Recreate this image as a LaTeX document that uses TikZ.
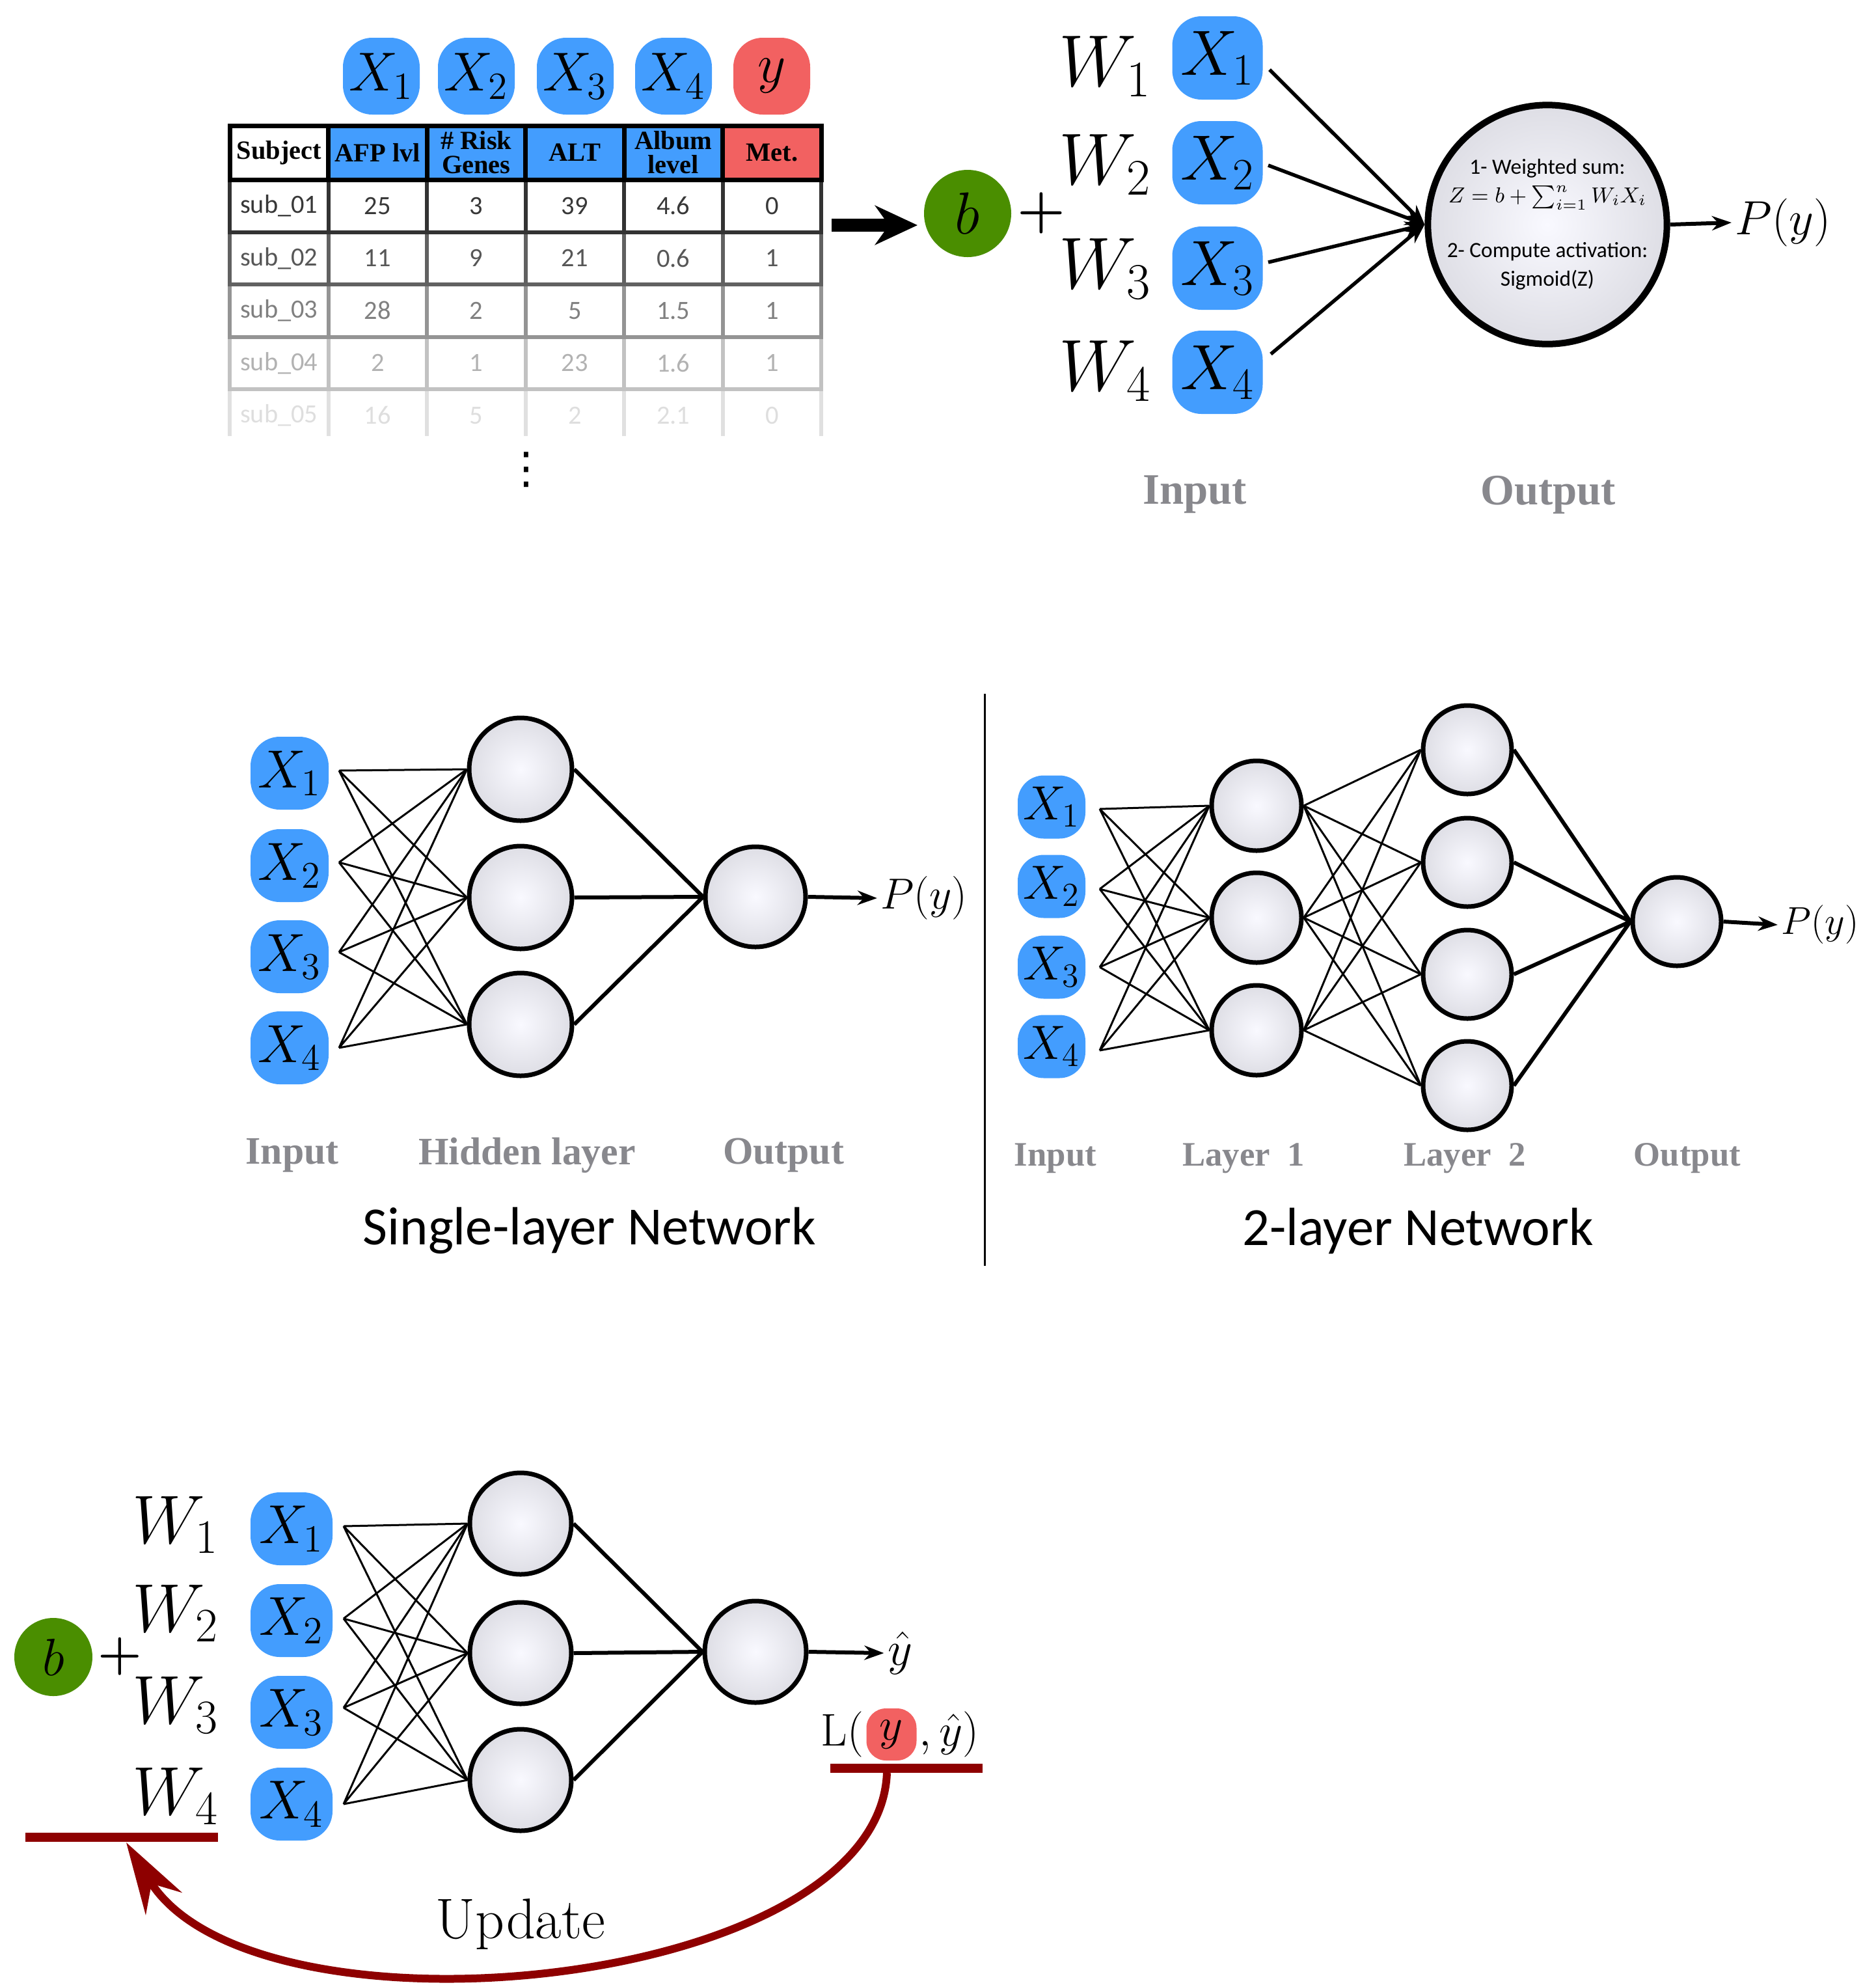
\RequirePackage{fix-cm}
\documentclass[tikz,border=0pt]{standalone}
\usepackage{fontspec}
\usetikzlibrary{positioning,arrows.meta}
\newfontfamily\carlito{Carlito}
\newfontfamily\libserif{Liberation Serif}
\newfontfamily\dejavu{DejaVu Sans}
\definecolor{xblue}{HTML}{439DFE}
\definecolor{xred}{HTML}{F26161}
\definecolor{xgreen}{HTML}{4A8E00}
\definecolor{updred}{HTML}{8E0000}
\definecolor{labgray}{HTML}{88888D}
\definecolor{ncenter}{HTML}{F9F9FF}
\definecolor{nedge}{HTML}{C3C3CB}
\pgfdeclareradialshading{neuronshade}{\pgfpoint{0bp}{0bp}}{color(0bp)=(ncenter); color(50bp)=(nedge)}
\tikzset{
  pill/.style={rectangle, rounded corners=4.5mm, fill=xblue, inner sep=0pt},
  bias/.style={circle, fill=xgreen, inner sep=0pt},
  neuron/.style={circle, draw, line width=0.7mm, shading=neuronshade, inner sep=0pt},
  thinlink/.style={line width=0.3mm},
  thicklink/.style={line width=0.6mm},
  inarrow/.style={line width=0.55mm, -{Stealth[length=3mm, width=2.4mm]}},
  outarrow/.style={line width=0.6mm, -{Stealth[length=3mm, width=2.2mm]}},
  layerlabel/.style={text=labgray, font=\libserif\bfseries\fontsize{17}{20}\selectfont},
  nettitle/.style={font=\carlito\fontsize{23.5}{28}\selectfont},
  hcell/.style={rectangle, draw, line width=0.7mm, minimum width=1.515cm, minimum height=0.83cm, inner sep=0pt, align=center, font=\libserif\bfseries\fontsize{11.5}{10.5}\selectfont},
  bcell/.style={rectangle, line width=0.6mm, minimum width=1.515cm, minimum height=0.805cm, inner sep=0pt, font=\carlito\fontsize{11.5}{13}\selectfont},
  rowA/.style={bcell, draw=black!80, text=black!78},
  rowB/.style={bcell, draw=black!62, text=black!66},
  rowC/.style={bcell, draw=black!42, text=black!50},
  rowD/.style={bcell, draw=black!24, text=black!30},
  rowE/.style={bcell, text=black!13}
}
\begin{document}
\begin{tikzpicture}[y=-1cm]
    \useasboundingbox (0, 0) rectangle (28.83, 30.50);
    \node[pill, minimum width=1.18cm, minimum height=1.18cm, font=\fontsize{24}{28}\selectfont] (Hx_1) at (5.86, 1.17) {$X_1$};
    \node[pill, minimum width=1.18cm, minimum height=1.18cm, font=\fontsize{24}{28}\selectfont] (Hx_2) at (7.32, 1.17) {$X_2$};
    \node[pill, minimum width=1.18cm, minimum height=1.18cm, font=\fontsize{24}{28}\selectfont] (Hx_3) at (8.84, 1.17) {$X_3$};
    \node[pill, minimum width=1.18cm, minimum height=1.18cm, font=\fontsize{24}{28}\selectfont] (Hx_4) at (10.35, 1.17) {$X_4$};
    \node[pill, fill=xred, minimum width=1.18cm, minimum height=1.18cm, font=\fontsize{24}{28}\selectfont] (Hy) at (11.86, 1.17) {$y$};
    \node[rowE] (R5_1) at (4.288, 6.3825) {sub\_05};
    \node[rowE] (R5_2) at (5.803, 6.3825) {16};
    \node[rowE] (R5_3) at (7.318, 6.3825) {5};
    \node[rowE] (R5_4) at (8.833, 6.3825) {2};
    \node[rowE] (R5_5) at (10.348, 6.3825) {2.1};
    \node[rowE] (R5_6) at (11.863, 6.3825) {0};
    \coordinate (E_1) at (3.53, 5.98);
    \coordinate (E_2) at (5.045, 5.98);
    \coordinate (E_3) at (6.56, 5.98);
    \coordinate (E_4) at (8.075, 5.98);
    \coordinate (E_5) at (9.59, 5.98);
    \coordinate (E_6) at (11.105, 5.98);
    \coordinate (E_7) at (12.62, 5.98);
    \draw[black!12, line width=0.6mm] (E_1) -- ++(0, 0.72) (E_2) -- ++(0, 0.72) (E_3) -- ++(0, 0.72) (E_4) -- ++(0, 0.72) (E_5) -- ++(0, 0.72) (E_6) -- ++(0, 0.72) (E_7) -- ++(0, 0.72);
    \node[rowD] (R4_1) at (4.288, 5.5775) {sub\_04};
    \node[rowD] (R4_2) at (5.803, 5.5775) {2};
    \node[rowD] (R4_3) at (7.318, 5.5775) {1};
    \node[rowD] (R4_4) at (8.833, 5.5775) {23};
    \node[rowD] (R4_5) at (10.348, 5.5775) {1.6};
    \node[rowD] (R4_6) at (11.863, 5.5775) {1};
    \node[rowC] (R3_1) at (4.288, 4.7725) {sub\_03};
    \node[rowC] (R3_2) at (5.803, 4.7725) {28};
    \node[rowC] (R3_3) at (7.318, 4.7725) {2};
    \node[rowC] (R3_4) at (8.833, 4.7725) {5};
    \node[rowC] (R3_5) at (10.348, 4.7725) {1.5};
    \node[rowC] (R3_6) at (11.863, 4.7725) {1};
    \node[rowB] (R2_1) at (4.288, 3.9675) {sub\_02};
    \node[rowB] (R2_2) at (5.803, 3.9675) {11};
    \node[rowB] (R2_3) at (7.318, 3.9675) {9};
    \node[rowB] (R2_4) at (8.833, 3.9675) {21};
    \node[rowB] (R2_5) at (10.348, 3.9675) {0.6};
    \node[rowB] (R2_6) at (11.863, 3.9675) {1};
    \node[rowA] (R1_1) at (4.288, 3.1625) {sub\_01};
    \node[rowA] (R1_2) at (5.803, 3.1625) {25};
    \node[rowA] (R1_3) at (7.318, 3.1625) {3};
    \node[rowA] (R1_4) at (8.833, 3.1625) {39};
    \node[rowA] (R1_5) at (10.348, 3.1625) {4.6};
    \node[rowA] (R1_6) at (11.863, 3.1625) {0};
    \node[hcell] (T_1) at (4.288, 2.345) {Subject};
    \node[hcell, fill=xblue] (T_2) at (5.803, 2.345) {AFP lvl};
    \node[hcell, fill=xblue] (T_3) at (7.318, 2.345) {\# Risk\\Genes};
    \node[hcell, fill=xblue] (T_4) at (8.833, 2.345) {ALT};
    \node[hcell, fill=xblue] (T_5) at (10.348, 2.345) {Album\\level};
    \node[hcell, fill=xred] (T_6) at (11.863, 2.345) {Met.};
    \node[font=\dejavu\fontsize{19}{22}\selectfont] (dots) at (8.09, 7.22) {⋮};
    \coordinate (G_1) at (12.78, 3.46);
    \coordinate (G_2) at (14.10, 3.46);
    \draw[line width=2mm, -{Stealth[length=6.5mm, width=6mm]}] (G_1) -- (G_2);
    \node[bias, minimum size=1.34cm, font=\fontsize{26}{30}\selectfont] (bias) at (14.87, 3.28) {$b$};
    \node[font=\fontsize{24}{28}\selectfont] (sum) at (16.00, 3.27) {\textbf{+}};
    \node[font=\fontsize{32}{36}\selectfont] (W_1) at (16.98, 1.02) {$W_1$};
    \node[font=\fontsize{32}{36}\selectfont] (W_2) at (16.98, 2.53) {$W_2$};
    \node[font=\fontsize{32}{36}\selectfont] (W_3) at (16.98, 4.13) {$W_3$};
    \node[font=\fontsize{32}{36}\selectfont] (W_4) at (16.98, 5.70) {$W_4$};
    \node[pill, minimum width=1.39cm, minimum height=1.28cm, font=\fontsize{28}{32}\selectfont] (X_1) at (18.71, 0.89) {$X_1$};
    \node[pill, minimum width=1.39cm, minimum height=1.28cm, font=\fontsize{28}{32}\selectfont] (X_2) at (18.71, 2.50) {$X_2$};
    \node[pill, minimum width=1.39cm, minimum height=1.28cm, font=\fontsize{28}{32}\selectfont] (X_3) at (18.71, 4.12) {$X_3$};
    \node[pill, minimum width=1.39cm, minimum height=1.28cm, font=\fontsize{28}{32}\selectfont] (X_4) at (18.71, 5.72) {$X_4$};
    \coordinate (x_1) at (19.51, 1.07);
    \coordinate (x_2) at (19.49, 2.54);
    \coordinate (x_3) at (19.49, 4.03);
    \coordinate (x_4) at (19.53, 5.44);
    \node[neuron, line width=1mm, minimum size=3.6cm, align=center, font=\carlito\fontsize{9.5}{12.5}\selectfont] (N) at (23.78, 3.45) {1- Weighted sum:\\$Z = b + \sum_{i=1}^{n} W_i X_i$\\[4mm]2- Compute activation:\\Sigmoid(Z)};
    \draw[inarrow] (x_1) -- (N.west);
    \draw[inarrow] (x_2) -- (N.west);
    \draw[inarrow] (x_3) -- (N.west);
    \draw[inarrow] (x_4) -- (N.west);
    \node[inner sep=0.5mm, font=\fontsize{21}{25}\selectfont] (Py) at (27.40, 3.42) {$P(y)$};
    \draw[outarrow] (N.east) -- (Py.west);
    \node[layerlabel, font=\libserif\bfseries\fontsize{19}{22}\selectfont] (In_t) at (18.36, 7.60) {Input};
    \node[layerlabel, font=\libserif\bfseries\fontsize{19}{22}\selectfont] (Out_t) at (23.79, 7.60) {Output};
    \node[pill, minimum width=1.20cm, minimum height=1.12cm, font=\fontsize{23.5}{28}\selectfont] (S_1) at (4.45, 11.88) {$X_1$};
    \node[pill, minimum width=1.20cm, minimum height=1.12cm, font=\fontsize{23.5}{28}\selectfont] (S_2) at (4.45, 13.30) {$X_2$};
    \node[pill, minimum width=1.20cm, minimum height=1.12cm, font=\fontsize{23.5}{28}\selectfont] (S_3) at (4.45, 14.70) {$X_3$};
    \node[pill, minimum width=1.20cm, minimum height=1.12cm, font=\fontsize{23.5}{28}\selectfont] (S_4) at (4.45, 16.10) {$X_4$};
    \coordinate (s_1) at (5.21, 11.84);
    \coordinate (s_2) at (5.21, 13.25);
    \coordinate (s_3) at (5.21, 14.63);
    \coordinate (s_4) at (5.21, 16.10);
    \node[neuron, minimum size=1.58cm] (H_1) at (8.00, 11.82) {};
    \node[neuron, minimum size=1.58cm] (H_2) at (8.00, 13.79) {};
    \node[neuron, minimum size=1.58cm] (H_3) at (8.00, 15.74) {};
    \node[neuron, minimum size=1.54cm] (O) at (11.61, 13.78) {};
    \draw[thinlink] (s_1) -- (H_1.west) (s_1) -- (H_2.west) (s_1) -- (H_3.west);
    \draw[thinlink] (s_2) -- (H_1.west) (s_2) -- (H_2.west) (s_2) -- (H_3.west);
    \draw[thinlink] (s_3) -- (H_1.west) (s_3) -- (H_2.west) (s_3) -- (H_3.west);
    \draw[thinlink] (s_4) -- (H_1.west) (s_4) -- (H_2.west) (s_4) -- (H_3.west);
    \draw[thicklink] (H_1.east) -- (O.west) (H_2.east) -- (O.west) (H_3.east) -- (O.west);
    \node[inner sep=0.5mm, font=\fontsize{19}{23}\selectfont] (Ps) at (14.20, 13.80) {$P(y)$};
    \draw[outarrow] (O.east) -- (Ps.west);
    \node[layerlabel] (In_s) at (4.49, 17.75) {Input};
    \node[layerlabel] (Hid_s) at (8.10, 17.75) {Hidden layer};
    \node[layerlabel] (Out_s) at (12.04, 17.75) {Output};
    \node[nettitle] (Title_s) at (9.06, 18.91) {Single-layer Network};
    \coordinate (V_1) at (15.13, 10.66);
    \coordinate (V_2) at (15.13, 19.45);
    \draw[line width=0.3mm] (V_1) -- (V_2);
    \node[pill, rounded corners=4mm, minimum width=1.04cm, minimum height=0.97cm, font=\fontsize{21}{25}\selectfont] (D_1) at (16.16, 12.40) {$X_1$};
    \node[pill, rounded corners=4mm, minimum width=1.04cm, minimum height=0.97cm, font=\fontsize{21}{25}\selectfont] (D_2) at (16.16, 13.62) {$X_2$};
    \node[pill, rounded corners=4mm, minimum width=1.04cm, minimum height=0.97cm, font=\fontsize{21}{25}\selectfont] (D_3) at (16.16, 14.86) {$X_3$};
    \node[pill, rounded corners=4mm, minimum width=1.04cm, minimum height=0.97cm, font=\fontsize{21}{25}\selectfont] (D_4) at (16.16, 16.08) {$X_4$};
    \coordinate (d_1) at (16.90, 12.43);
    \coordinate (d_2) at (16.90, 13.66);
    \coordinate (d_3) at (16.90, 14.86);
    \coordinate (d_4) at (16.90, 16.14);
    \node[neuron, minimum size=1.38cm] (L_1) at (19.31, 12.38) {};
    \node[neuron, minimum size=1.38cm] (L_2) at (19.31, 14.10) {};
    \node[neuron, minimum size=1.38cm] (L_3) at (19.31, 15.83) {};
    \node[neuron, minimum size=1.36cm] (M_1) at (22.55, 11.52) {};
    \node[neuron, minimum size=1.36cm] (M_2) at (22.55, 13.25) {};
    \node[neuron, minimum size=1.36cm] (M_3) at (22.55, 14.97) {};
    \node[neuron, minimum size=1.36cm] (M_4) at (22.55, 16.68) {};
    \node[neuron, minimum size=1.36cm] (Q) at (25.77, 14.16) {};
    \draw[thinlink] (d_1) -- (L_1.west) (d_1) -- (L_2.west) (d_1) -- (L_3.west);
    \draw[thinlink] (d_2) -- (L_1.west) (d_2) -- (L_2.west) (d_2) -- (L_3.west);
    \draw[thinlink] (d_3) -- (L_1.west) (d_3) -- (L_2.west) (d_3) -- (L_3.west);
    \draw[thinlink] (d_4) -- (L_1.west) (d_4) -- (L_2.west) (d_4) -- (L_3.west);
    \draw[thinlink] (L_1.east) -- (M_1.west) (L_1.east) -- (M_2.west) (L_1.east) -- (M_3.west) (L_1.east) -- (M_4.west);
    \draw[thinlink] (L_2.east) -- (M_1.west) (L_2.east) -- (M_2.west) (L_2.east) -- (M_3.west) (L_2.east) -- (M_4.west);
    \draw[thinlink] (L_3.east) -- (M_1.west) (L_3.east) -- (M_2.west) (L_3.east) -- (M_3.west) (L_3.east) -- (M_4.west);
    \draw[thicklink] (M_1.east) -- (Q.west) (M_2.east) -- (Q.west) (M_3.east) -- (Q.west) (M_4.east) -- (Q.west);
    \node[inner sep=0.5mm, font=\fontsize{17}{21}\selectfont] (Pd) at (27.97, 14.21) {$P(y)$};
    \draw[outarrow] (Q.east) -- (Pd.west);
    \node[layerlabel, font=\libserif\bfseries\fontsize{15}{18}\selectfont] (In_d) at (16.22, 17.80) {Input};
    \node[layerlabel, font=\libserif\bfseries\fontsize{15}{18}\selectfont] (La_d) at (19.11, 17.80) {Layer~ 1};
    \node[layerlabel, font=\libserif\bfseries\fontsize{15}{18}\selectfont] (Lb_d) at (22.51, 17.80) {Layer~ 2};
    \node[layerlabel, font=\libserif\bfseries\fontsize{15}{18}\selectfont] (Out_d) at (25.93, 17.80) {Output};
    \node[nettitle] (Title_d) at (21.79, 18.91) {2-layer Network};
    \node[bias, minimum size=1.20cm, font=\fontsize{23}{27}\selectfont] (bbias) at (0.82, 25.46) {$b$};
    \node[font=\fontsize{22}{26}\selectfont] (bsum) at (1.84, 25.45) {\textbf{+}};
    \node[font=\fontsize{30}{34}\selectfont] (BW_1) at (2.70, 23.43) {$W_1$};
    \node[font=\fontsize{30}{34}\selectfont] (BW_2) at (2.70, 24.79) {$W_2$};
    \node[font=\fontsize{30}{34}\selectfont] (BW_3) at (2.70, 26.20) {$W_3$};
    \node[font=\fontsize{30}{34}\selectfont] (BW_4) at (2.70, 27.60) {$W_4$};
    \node[pill, minimum width=1.26cm, minimum height=1.12cm, font=\fontsize{24}{28}\selectfont] (BX_1) at (4.48, 23.49) {$X_1$};
    \node[pill, minimum width=1.26cm, minimum height=1.12cm, font=\fontsize{24}{28}\selectfont] (BX_2) at (4.48, 24.90) {$X_2$};
    \node[pill, minimum width=1.26cm, minimum height=1.12cm, font=\fontsize{24}{28}\selectfont] (BX_3) at (4.48, 26.31) {$X_3$};
    \node[pill, minimum width=1.26cm, minimum height=1.12cm, font=\fontsize{24}{28}\selectfont] (BX_4) at (4.48, 27.72) {$X_4$};
    \coordinate (bx_1) at (5.28, 23.45);
    \coordinate (bx_2) at (5.28, 24.87);
    \coordinate (bx_3) at (5.28, 26.24);
    \coordinate (bx_4) at (5.28, 27.72);
    \node[neuron, minimum size=1.56cm] (BH_1) at (8.00, 23.41) {};
    \node[neuron, minimum size=1.56cm] (BH_2) at (8.00, 25.40) {};
    \node[neuron, minimum size=1.56cm] (BH_3) at (8.00, 27.35) {};
    \node[neuron, minimum size=1.56cm] (BO) at (11.61, 25.38) {};
    \draw[thinlink] (bx_1) -- (BH_1.west) (bx_1) -- (BH_2.west) (bx_1) -- (BH_3.west);
    \draw[thinlink] (bx_2) -- (BH_1.west) (bx_2) -- (BH_2.west) (bx_2) -- (BH_3.west);
    \draw[thinlink] (bx_3) -- (BH_1.west) (bx_3) -- (BH_2.west) (bx_3) -- (BH_3.west);
    \draw[thinlink] (bx_4) -- (BH_1.west) (bx_4) -- (BH_2.west) (bx_4) -- (BH_3.west);
    \draw[thicklink] (BH_1.east) -- (BO.west) (BH_2.east) -- (BO.west) (BH_3.east) -- (BO.west);
    \node[inner sep=0.5mm, font=\fontsize{21}{25}\selectfont] (yhat) at (13.83, 25.40) {$\hat{y}$};
    \draw[outarrow] (BO.east) -- (yhat.west);
    \node[pill, fill=xred, rounded corners=3mm, minimum width=0.77cm, minimum height=0.80cm, font=\fontsize{20}{24}\selectfont] (ytrue) at (13.70, 26.65) {$y$};
    \node[inner sep=0pt, left=0.3mm of ytrue, font=\fontsize{20}{24}\selectfont] (lossL) {L(};
    \node[inner sep=0pt, right=0.3mm of ytrue, font=\fontsize{20}{24}\selectfont] (lossR) {$,\hat{y})$};
    \coordinate (B_1) at (12.76, 27.17);
    \coordinate (B_2) at (15.10, 27.17);
    \coordinate (B_3) at (0.39, 28.23);
    \coordinate (B_4) at (3.35, 28.23);
    \draw[updred, line width=1.4mm] (B_1) -- (B_2);
    \draw[updred, line width=1.4mm] (B_3) -- (B_4);
    \coordinate (U_1) at (13.63, 27.24);
    \coordinate (U_2) at (1.94, 28.31);
    \draw[updred, line width=1.2mm, -{Stealth[length=11mm, width=6.5mm]}] (U_1) .. controls (13.5, 30.6) and (3.9, 31.5) .. (U_2);
    \node[font=\fontsize{25}{29}\selectfont] (upd) at (8.00, 29.57) {Update};
\end{tikzpicture}
\end{document}
